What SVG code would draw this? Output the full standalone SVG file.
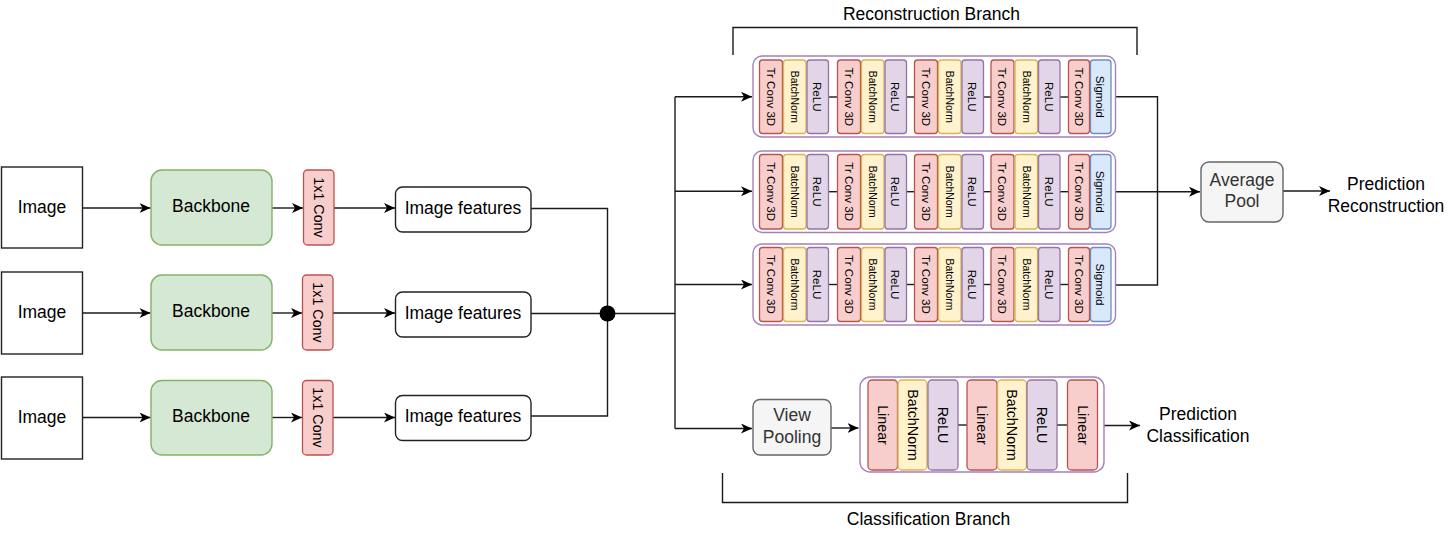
<svg xmlns="http://www.w3.org/2000/svg" width="1448" height="537" viewBox="0 0 1448 537">
<defs>
<marker id="arr" markerUnits="userSpaceOnUse" markerWidth="12" markerHeight="10" viewBox="0 0 12 10" refX="11" refY="5" orient="auto">
<path d="M0,0 L11,5 L0,10 L3,5 Z" fill="#000"/>
</marker>
<style>
text{font-family:"Liberation Sans",Arial,Helvetica,sans-serif;fill:#000}
.lbl{font-size:17.5px;text-anchor:middle}
.gray{fill:#333}
.rot{text-anchor:middle;dominant-baseline:central}
.s11{font-size:11.6px}
.s10{font-size:10.4px}
.s14{font-size:14.3px}
.img{fill:#fff;stroke:#222;stroke-width:1.4}
.bb{fill:#d5e8d4;stroke:#82b366;stroke-width:1.4}
.tc{fill:#f8cecc;stroke:#b85450;stroke-width:1.3}
.bn{fill:#fff2cc;stroke:#d6b656;stroke-width:1.3}
.re{fill:#e1d5e7;stroke:#9673a6;stroke-width:1.3}
.sg{fill:#dae8fc;stroke:#6c8ebf;stroke-width:1.3}
.ct{fill:#fff;stroke:#a680b8;stroke-width:1.4}
.feat{fill:#fff;stroke:#222;stroke-width:1.4}
.pool{fill:#f5f5f5;stroke:#666;stroke-width:1.4}
.ln{fill:none;stroke:#1a1a1a;stroke-width:1.4}
.ar{fill:none;stroke:#1a1a1a;stroke-width:1.4;marker-end:url(#arr)}
</style>
</defs>

<!-- Connectors -->
<g id="connectors">
<line class="ar" x1="83" y1="208" x2="150.5" y2="208"/>
<line class="ar" x1="272" y1="208" x2="303" y2="208"/>
<line class="ar" x1="334" y1="208" x2="395" y2="208"/>
<line class="ar" x1="83" y1="313" x2="150.5" y2="313"/>
<line class="ar" x1="272" y1="313" x2="302" y2="313"/>
<line class="ar" x1="333" y1="313" x2="395" y2="313"/>
<line class="ar" x1="83" y1="417.5" x2="150.5" y2="417.5"/>
<line class="ar" x1="272" y1="417.5" x2="302" y2="417.5"/>
<line class="ar" x1="333" y1="417.5" x2="395" y2="417.5"/>
<path class="ln" d="M531,208.5 H607.5 V416 H531"/>
<line class="ln" x1="531" y1="313.5" x2="675" y2="313.5"/>
<line class="ln" x1="675" y1="96.7" x2="675" y2="428.5"/>
<line class="ar" x1="675" y1="96.7" x2="752" y2="96.7"/>
<line class="ar" x1="675" y1="191.3" x2="752" y2="191.3"/>
<line class="ar" x1="675" y1="284.5" x2="752" y2="284.5"/>
<line class="ar" x1="675" y1="428.5" x2="752" y2="428.5"/>
<line class="ar" x1="831" y1="428" x2="858.5" y2="428"/>
<line class="ar" x1="1104" y1="425.5" x2="1140" y2="425.5"/>
<path class="ln" d="M1115.5,96.7 H1157.5 V285 H1115.5"/>
<line class="ar" x1="1115.5" y1="191.7" x2="1200" y2="191.7"/>
<line class="ar" x1="1283" y1="191" x2="1330" y2="191"/>
</g>

<!-- Left column nodes -->
<g id="image1"><rect class="img" x="1.5" y="167" width="81" height="81"/><text class="lbl" x="42" y="212.5">Image</text></g>
<g id="image2"><rect class="img" x="1.5" y="272" width="81" height="82"/><text class="lbl" x="42" y="317.5">Image</text></g>
<g id="image3"><rect class="img" x="1.5" y="377" width="81" height="82"/><text class="lbl" x="42" y="422.5">Image</text></g>

<g id="backbone1"><rect class="bb" x="151" y="170" width="121" height="75" rx="11"/><text class="lbl" x="211" y="212">Backbone</text></g>
<g id="backbone2"><rect class="bb" x="151" y="275" width="121" height="75" rx="11"/><text class="lbl" x="211" y="317">Backbone</text></g>
<g id="backbone3"><rect class="bb" x="151" y="380.5" width="121" height="74.5" rx="11"/><text class="lbl" x="211" y="422">Backbone</text></g>

<g id="conv1"><rect class="tc" x="303.5" y="170" width="30.5" height="75" rx="4"/><text class="rot s14" transform="translate(318.5,207.5) rotate(90)">1x1 Conv</text></g>
<g id="conv2"><rect class="tc" x="302.5" y="275" width="30.5" height="75" rx="4"/><text class="rot s14" transform="translate(317.5,312.5) rotate(90)">1x1 Conv</text></g>
<g id="conv3"><rect class="tc" x="302.5" y="380.5" width="30.5" height="74.5" rx="4"/><text class="rot s14" transform="translate(317.5,417.5) rotate(90)">1x1 Conv</text></g>

<g id="features1"><rect class="feat" x="395.5" y="187" width="135.5" height="45" rx="7"/><text class="lbl" x="463" y="213.5">Image features</text></g>
<g id="features2"><rect class="feat" x="395.5" y="292" width="135.5" height="45" rx="7"/><text class="lbl" x="463" y="318.5">Image features</text></g>
<g id="features3"><rect class="feat" x="395.5" y="395.5" width="135.5" height="45" rx="7"/><text class="lbl" x="463" y="422">Image features</text></g>

<g id="junction"><circle cx="607.5" cy="313.5" r="8" fill="#000"/></g>

<!-- Reconstruction row 1 -->
<g id="recon1">
<rect class="ct" x="753" y="56" width="362.5" height="81" rx="9"/>
<g class="ln"><line x1="829" y1="97" x2="837.5" y2="97"/><line x1="906" y1="97" x2="914.5" y2="97"/><line x1="983" y1="97" x2="991" y2="97"/><line x1="1060" y1="97" x2="1068.5" y2="97"/></g>
<rect class="tc" x="759.5" y="60" width="23" height="73.5" rx="3"/><rect class="bn" x="783.5" y="60" width="22.5" height="73.5" rx="3"/><rect class="re" x="807" y="60" width="21.5" height="73.5" rx="3"/>
<rect class="tc" x="837.5" y="60" width="23" height="73.5" rx="3"/><rect class="bn" x="861.5" y="60" width="22.5" height="73.5" rx="3"/><rect class="re" x="885" y="60" width="21.5" height="73.5" rx="3"/>
<rect class="tc" x="914.5" y="60" width="23" height="73.5" rx="3"/><rect class="bn" x="938.5" y="60" width="22.5" height="73.5" rx="3"/><rect class="re" x="962" y="60" width="21.5" height="73.5" rx="3"/>
<rect class="tc" x="991" y="60" width="23" height="73.5" rx="3"/><rect class="bn" x="1015" y="60" width="22.5" height="73.5" rx="3"/><rect class="re" x="1038.5" y="60" width="21.5" height="73.5" rx="3"/>
<rect class="tc" x="1068.5" y="60" width="21" height="73.5" rx="3"/><rect class="sg" x="1090.5" y="60" width="20.5" height="73.5" rx="3"/>
<text class="rot s11" transform="translate(771,96.8) rotate(90)">Tr Conv 3D</text><text class="rot s10" transform="translate(794.8,96.8) rotate(90)">BatchNorm</text><text class="rot s11" transform="translate(817.8,96.8) rotate(90)">ReLU</text>
<text class="rot s11" transform="translate(849,96.8) rotate(90)">Tr Conv 3D</text><text class="rot s10" transform="translate(872.8,96.8) rotate(90)">BatchNorm</text><text class="rot s11" transform="translate(895.8,96.8) rotate(90)">ReLU</text>
<text class="rot s11" transform="translate(926,96.8) rotate(90)">Tr Conv 3D</text><text class="rot s10" transform="translate(949.8,96.8) rotate(90)">BatchNorm</text><text class="rot s11" transform="translate(972.8,96.8) rotate(90)">ReLU</text>
<text class="rot s11" transform="translate(1002.5,96.8) rotate(90)">Tr Conv 3D</text><text class="rot s10" transform="translate(1026.3,96.8) rotate(90)">BatchNorm</text><text class="rot s11" transform="translate(1049.3,96.8) rotate(90)">ReLU</text>
<text class="rot s11" transform="translate(1079,96.8) rotate(90)">Tr Conv 3D</text><text class="rot s11" transform="translate(1100.8,96.8) rotate(90)">Sigmoid</text>
</g>

<!-- Reconstruction row 2 -->
<g id="recon2">
<rect class="ct" x="753" y="151" width="362.5" height="81.5" rx="9"/>
<g class="ln"><line x1="829" y1="191.7" x2="837.5" y2="191.7"/><line x1="906" y1="191.7" x2="914.5" y2="191.7"/><line x1="983" y1="191.7" x2="991" y2="191.7"/><line x1="1060" y1="191.7" x2="1068.5" y2="191.7"/></g>
<rect class="tc" x="759.5" y="154.5" width="23" height="74.5" rx="3"/><rect class="bn" x="783.5" y="154.5" width="22.5" height="74.5" rx="3"/><rect class="re" x="807" y="154.5" width="21.5" height="74.5" rx="3"/>
<rect class="tc" x="837.5" y="154.5" width="23" height="74.5" rx="3"/><rect class="bn" x="861.5" y="154.5" width="22.5" height="74.5" rx="3"/><rect class="re" x="885" y="154.5" width="21.5" height="74.5" rx="3"/>
<rect class="tc" x="914.5" y="154.5" width="23" height="74.5" rx="3"/><rect class="bn" x="938.5" y="154.5" width="22.5" height="74.5" rx="3"/><rect class="re" x="962" y="154.5" width="21.5" height="74.5" rx="3"/>
<rect class="tc" x="991" y="154.5" width="23" height="74.5" rx="3"/><rect class="bn" x="1015" y="154.5" width="22.5" height="74.5" rx="3"/><rect class="re" x="1038.5" y="154.5" width="21.5" height="74.5" rx="3"/>
<rect class="tc" x="1068.5" y="154.5" width="21" height="74.5" rx="3"/><rect class="sg" x="1090.5" y="154.5" width="20.5" height="74.5" rx="3"/>
<text class="rot s11" transform="translate(771,191.7) rotate(90)">Tr Conv 3D</text><text class="rot s10" transform="translate(794.8,191.7) rotate(90)">BatchNorm</text><text class="rot s11" transform="translate(817.8,191.7) rotate(90)">ReLU</text>
<text class="rot s11" transform="translate(849,191.7) rotate(90)">Tr Conv 3D</text><text class="rot s10" transform="translate(872.8,191.7) rotate(90)">BatchNorm</text><text class="rot s11" transform="translate(895.8,191.7) rotate(90)">ReLU</text>
<text class="rot s11" transform="translate(926,191.7) rotate(90)">Tr Conv 3D</text><text class="rot s10" transform="translate(949.8,191.7) rotate(90)">BatchNorm</text><text class="rot s11" transform="translate(972.8,191.7) rotate(90)">ReLU</text>
<text class="rot s11" transform="translate(1002.5,191.7) rotate(90)">Tr Conv 3D</text><text class="rot s10" transform="translate(1026.3,191.7) rotate(90)">BatchNorm</text><text class="rot s11" transform="translate(1049.3,191.7) rotate(90)">ReLU</text>
<text class="rot s11" transform="translate(1079,191.7) rotate(90)">Tr Conv 3D</text><text class="rot s11" transform="translate(1100.8,191.7) rotate(90)">Sigmoid</text>
</g>

<!-- Reconstruction row 3 -->
<g id="recon3">
<rect class="ct" x="753" y="244" width="362.5" height="81" rx="9"/>
<g class="ln"><line x1="829" y1="284.5" x2="837.5" y2="284.5"/><line x1="906" y1="284.5" x2="914.5" y2="284.5"/><line x1="983" y1="284.5" x2="991" y2="284.5"/><line x1="1060" y1="284.5" x2="1068.5" y2="284.5"/></g>
<rect class="tc" x="759.5" y="247.5" width="23" height="74" rx="3"/><rect class="bn" x="783.5" y="247.5" width="22.5" height="74" rx="3"/><rect class="re" x="807" y="247.5" width="21.5" height="74" rx="3"/>
<rect class="tc" x="837.5" y="247.5" width="23" height="74" rx="3"/><rect class="bn" x="861.5" y="247.5" width="22.5" height="74" rx="3"/><rect class="re" x="885" y="247.5" width="21.5" height="74" rx="3"/>
<rect class="tc" x="914.5" y="247.5" width="23" height="74" rx="3"/><rect class="bn" x="938.5" y="247.5" width="22.5" height="74" rx="3"/><rect class="re" x="962" y="247.5" width="21.5" height="74" rx="3"/>
<rect class="tc" x="991" y="247.5" width="23" height="74" rx="3"/><rect class="bn" x="1015" y="247.5" width="22.5" height="74" rx="3"/><rect class="re" x="1038.5" y="247.5" width="21.5" height="74" rx="3"/>
<rect class="tc" x="1068.5" y="247.5" width="21" height="74" rx="3"/><rect class="sg" x="1090.5" y="247.5" width="20.5" height="74" rx="3"/>
<text class="rot s11" transform="translate(771,284.5) rotate(90)">Tr Conv 3D</text><text class="rot s10" transform="translate(794.8,284.5) rotate(90)">BatchNorm</text><text class="rot s11" transform="translate(817.8,284.5) rotate(90)">ReLU</text>
<text class="rot s11" transform="translate(849,284.5) rotate(90)">Tr Conv 3D</text><text class="rot s10" transform="translate(872.8,284.5) rotate(90)">BatchNorm</text><text class="rot s11" transform="translate(895.8,284.5) rotate(90)">ReLU</text>
<text class="rot s11" transform="translate(926,284.5) rotate(90)">Tr Conv 3D</text><text class="rot s10" transform="translate(949.8,284.5) rotate(90)">BatchNorm</text><text class="rot s11" transform="translate(972.8,284.5) rotate(90)">ReLU</text>
<text class="rot s11" transform="translate(1002.5,284.5) rotate(90)">Tr Conv 3D</text><text class="rot s10" transform="translate(1026.3,284.5) rotate(90)">BatchNorm</text><text class="rot s11" transform="translate(1049.3,284.5) rotate(90)">ReLU</text>
<text class="rot s11" transform="translate(1079,284.5) rotate(90)">Tr Conv 3D</text><text class="rot s11" transform="translate(1100.8,284.5) rotate(90)">Sigmoid</text>
</g>

<!-- Classification head -->
<g id="viewpool"><rect class="pool" x="753" y="399.5" width="78" height="55.5" rx="7"/><text class="lbl gray" x="792" y="420.5">View</text><text class="lbl gray" x="792" y="442.5">Pooling</text></g>
<g id="classifier">
<rect class="ct" x="860" y="377" width="244" height="95" rx="10"/>
<g class="ln"><line x1="958" y1="425" x2="967" y2="425"/><line x1="1057" y1="425" x2="1067.5" y2="425"/></g>
<rect class="tc" x="868" y="380" width="29.5" height="90" rx="4"/><rect class="bn" x="898" y="380" width="29" height="90" rx="4"/><rect class="re" x="928" y="380" width="30" height="90" rx="4"/>
<rect class="tc" x="967" y="380" width="30" height="90" rx="4"/><rect class="bn" x="997.5" y="380" width="29" height="90" rx="4"/><rect class="re" x="1027" y="380" width="30" height="90" rx="4"/>
<rect class="tc" x="1067.5" y="380" width="30" height="90" rx="4"/>
<text class="rot s14" transform="translate(882.8,425) rotate(90)">Linear</text><text class="rot s14" transform="translate(912.5,425) rotate(90)">BatchNorm</text><text class="rot s14" transform="translate(943,425) rotate(90)">ReLU</text>
<text class="rot s14" transform="translate(982,425) rotate(90)">Linear</text><text class="rot s14" transform="translate(1012,425) rotate(90)">BatchNorm</text><text class="rot s14" transform="translate(1042,425) rotate(90)">ReLU</text>
<text class="rot s14" transform="translate(1082.5,425) rotate(90)">Linear</text>
</g>
<g id="avgpool"><rect class="pool" x="1201" y="162" width="82" height="60" rx="8"/><text class="lbl gray" x="1242" y="186">Average</text><text class="lbl gray" x="1242" y="207">Pool</text></g>

<g id="pred-recon"><text class="lbl" x="1386" y="190">Prediction</text><text class="lbl" x="1386" y="211.5">Reconstruction</text></g>
<g id="pred-class"><text class="lbl" x="1198" y="420">Prediction</text><text class="lbl" x="1198" y="442">Classification</text></g>

<g id="recon-branch"><path class="ln" d="M733,55 V27.5 H1137 V55"/><text class="lbl" x="931.5" y="20">Reconstruction Branch</text></g>
<g id="class-branch"><path class="ln" d="M722.5,473 V502.5 H1127.5 V473"/><text class="lbl" x="928.5" y="525">Classification Branch</text></g>
</svg>
